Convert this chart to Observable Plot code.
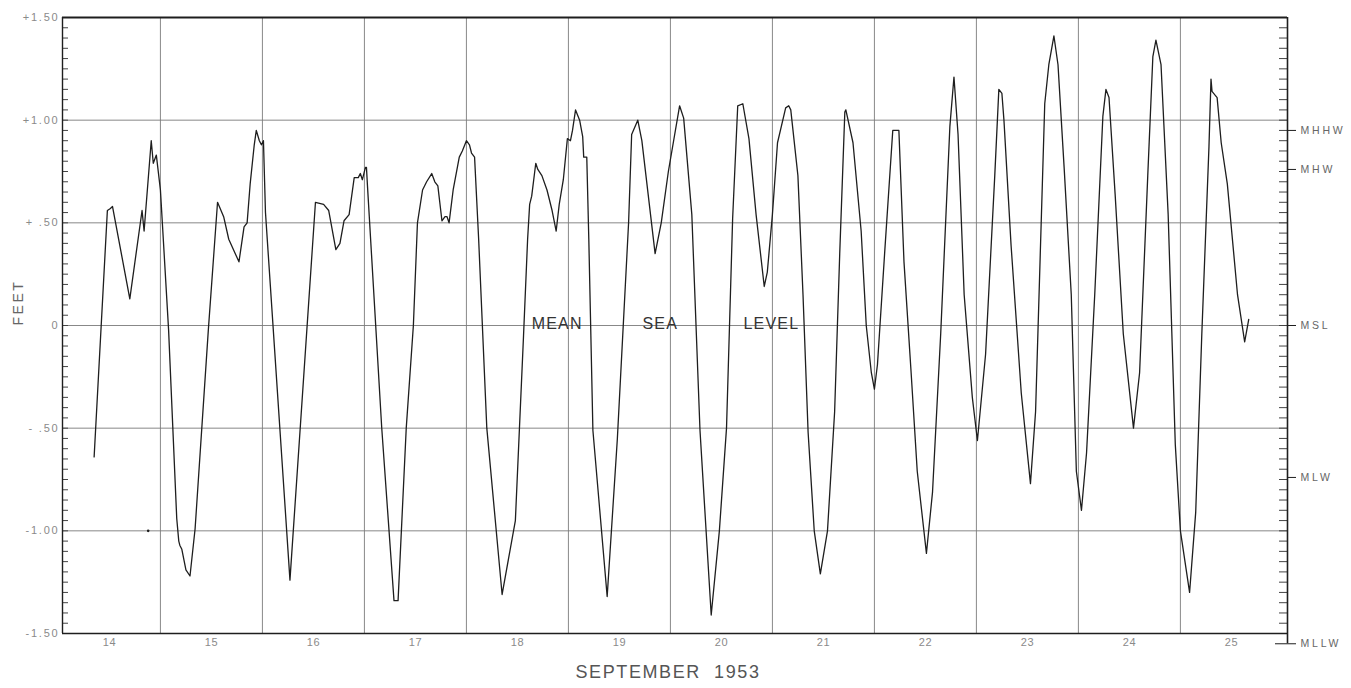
<!DOCTYPE html>
<html>
<head>
<meta charset="utf-8">
<script src="https://cdn.jsdelivr.net/npm/d3@7"></script>
<script src="https://cdn.jsdelivr.net/npm/@observablehq/plot@0.6"></script>
<style>
  html, body { margin: 0; padding: 0; background: #fff; }
  #chart svg { display: block; }
</style>
</head>
<body>
<div id="chart"></div>
<script>
// ---- Data (day of September 1953, height in feet rel. MSL)
const tideDay = [
  14.35,14.48,14.51,14.53,14.70,14.82,14.84,14.91,14.93,14.96,15.00,15.08,15.16,15.18,15.19,15.21,15.25,15.29,15.34,
  15.47,15.56,15.62,15.67,15.77,15.82,15.85,15.88,15.92,15.94,15.97,15.99,16.01,16.03,16.27,
  16.52,16.60,16.65,16.72,16.76,16.80,16.85,16.90,16.94,16.96,16.98,17.01,17.02,17.03,17.17,17.29,17.33,
  17.41,17.48,17.52,17.57,17.61,17.66,17.69,17.72,17.76,17.79,17.81,17.83,17.87,17.93,17.96,18.00,18.03,18.05,18.08,18.12,18.20,18.35,
  18.48,18.56,18.60,18.62,18.64,18.68,18.70,18.74,18.79,18.84,18.88,18.91,18.95,18.99,19.02,19.04,19.07,19.11,19.14,19.15,19.18,19.20,19.24,19.38,
  19.48,19.59,19.62,19.68,19.72,19.85,19.91,19.98,20.09,20.13,20.21,20.29,20.40,
  20.48,20.55,20.61,20.66,20.71,20.77,20.84,20.92,20.95,21.00,21.05,21.13,21.16,21.18,21.25,21.30,21.35,21.41,21.47,
  21.54,21.61,21.66,21.71,21.72,21.79,21.87,21.92,21.97,22.00,22.03,22.10,22.18,22.24,22.29,22.36,22.42,22.51,
  22.57,22.65,22.74,22.78,22.82,22.88,22.96,23.01,23.09,23.18,23.22,23.25,23.27,23.34,23.44,23.53,
  23.58,23.67,23.71,23.76,23.80,23.86,23.93,23.98,24.03,24.08,24.16,24.24,24.27,24.30,24.36,24.44,24.54,
  24.60,24.68,24.73,24.76,24.81,24.88,24.95,25.00,25.09,25.15,25.21,25.28,25.30,25.31,25.36,25.40,25.46,25.56,25.63,25.67
];
const tideFeet = [
  -0.64,0.56,0.57,0.58,0.13,0.56,0.46,0.90,0.79,0.83,0.66,-0.02,-0.94,-1.05,-1.07,-1.09,-1.19,-1.22,-0.99,
  -0.02,0.60,0.53,0.42,0.31,0.48,0.50,0.69,0.88,0.95,0.90,0.88,0.90,0.55,-1.24,
  0.60,0.59,0.56,0.37,0.40,0.51,0.54,0.72,0.72,0.74,0.71,0.77,0.77,0.68,-0.50,-1.34,-1.34,
  -0.50,0.00,0.50,0.66,0.70,0.74,0.70,0.68,0.51,0.53,0.53,0.50,0.66,0.82,0.85,0.90,0.88,0.84,0.82,0.42,-0.50,-1.31,
  -0.95,-0.05,0.42,0.59,0.63,0.79,0.76,0.73,0.66,0.56,0.46,0.59,0.71,0.91,0.90,0.95,1.05,1.00,0.92,0.82,0.82,0.42,-0.51,-1.32,
  -0.55,0.50,0.93,1.00,0.90,0.35,0.50,0.75,1.07,1.01,0.54,-0.51,-1.41,
  -1.00,-0.50,0.52,1.07,1.08,0.91,0.54,0.19,0.26,0.54,0.89,1.06,1.07,1.05,0.73,0.15,-0.52,-1.00,-1.21,
  -1.00,-0.42,0.35,1.04,1.05,0.89,0.46,0.00,-0.23,-0.31,-0.19,0.35,0.95,0.95,0.31,-0.23,-0.71,-1.11,
  -0.81,-0.04,0.97,1.21,0.93,0.15,-0.35,-0.56,-0.14,0.73,1.15,1.13,1.00,0.39,-0.33,-0.77,
  -0.42,1.08,1.27,1.41,1.27,0.77,0.15,-0.71,-0.90,-0.62,0.15,1.02,1.15,1.11,0.64,-0.04,-0.50,
  -0.23,0.73,1.31,1.39,1.27,0.54,-0.58,-1.00,-1.30,-0.91,-0.04,0.87,1.20,1.14,1.11,0.89,0.69,0.15,-0.08,0.03
];
const strayDay = [14.88];
const strayFeet = [-1.0];

const dayLabels = ["14","15","16","17","18","19","20","21","22","23","24","25"];
const dayLabelPos = [14.5,15.5,16.5,17.5,18.5,19.5,20.5,21.5,22.5,23.5,24.5,25.5];
const gridDays = [15,16,17,18,19,20,21,22,23,24,25];
const gridFeet = [-1.0,-0.5,0,0.5,1.0];
const feetTicks = [1.5,1.0,0.5,0,-0.5,-1.0,-1.5];
const feetTickLabels = ["+1.50","+1.00","+ .50","0","- .50","-1.00","-1.50"];
const datumNames = ["MHHW","MHW","MSL","MLW","MLLW"];
const datumFeet = [0.95,0.76,0,-0.74,-1.55];
const mslWords = ["MEAN","SEA","LEVEL"];
const mslWordDays = [18.89,19.90,20.99];

// ---- Build
const xDomain = [14.04, 26.05];
const W = 1351, H = 688;
const mL = 62, mR = 64, mT = 17, mB = 55;
const plotW = W - mL - mR;
const minorTicks = d3.range(-29, 30).map(k => k / 20);

const tide = tideDay.map((d, i) => ({day: d, ft: tideFeet[i]}));
const stray = strayDay.map((d, i) => ({day: d, ft: strayFeet[i]}));
const labelsY = feetTicks.map((v, i) => ({ft: v, label: feetTickLabels[i]}));
const labelsX = dayLabels.map((t, i) => ({day: dayLabelPos[i], label: t}));
const datum = datumNames.map((n, i) => ({name: n, ft: datumFeet[i]}));
const words = mslWords.map((w, i) => ({word: w, day: mslWordDays[i]}));

const gridColor = "#7a7a7a";
const ink = "#1e1e1e";

const chart = Plot.plot({
  width: W, height: H,
  marginLeft: mL, marginRight: mR, marginTop: mT, marginBottom: mB,
  x: {domain: xDomain, axis: null},
  y: {domain: [-1.5, 1.5], axis: null},
  style: {background: "#fff", fontFamily: "'Liberation Sans', Arial, sans-serif"},
  marks: [
    // grid
    Plot.ruleX(gridDays, {stroke: gridColor, strokeWidth: 0.9}),
    Plot.ruleY(gridFeet, {stroke: gridColor, strokeWidth: 0.9}),
    // inward minor ticks on both sides
    Plot.ruleY(minorTicks, {stroke: "#444", strokeWidth: 1, insetRight: plotW - 6}),
    Plot.ruleY(minorTicks, {stroke: "#444", strokeWidth: 1, insetLeft: plotW - 8}),
    // frame
    Plot.ruleY([1.5], {stroke: ink, strokeWidth: 2}),
    Plot.ruleY([-1.5], {stroke: ink, strokeWidth: 1.6}),
    Plot.ruleX([xDomain[0]], {stroke: ink, strokeWidth: 1.4}),
    Plot.ruleX([xDomain[1]], {y1: -1.55, y2: 1.5, stroke: ink, strokeWidth: 1.6}),
    // datum ticks (outward) + MLLW inward part
    Plot.ruleY(datum, {y: "ft", stroke: ink, strokeWidth: 1, insetLeft: plotW, insetRight: -9}),
    Plot.ruleY([-1.55], {stroke: ink, strokeWidth: 1, insetLeft: plotW - 12, insetRight: 0}),
    // tide curve
    Plot.line(tide, {x: "day", y: "ft", stroke: ink, strokeWidth: 1.3, strokeLinejoin: "round"}),
    Plot.dot(stray, {x: "day", y: "ft", r: 1.3, fill: ink, stroke: null}),
    // left labels
    Plot.text(labelsY, {y: "ft", text: "label", frameAnchor: "left", dx: -3, textAnchor: "end",
      fontSize: 11, fill: "#8a8a8a"}),
    // right datum labels
    Plot.text(datum, {y: "ft", text: "name", frameAnchor: "right", dx: 13, textAnchor: "start",
      fontSize: 10.5, fill: "#666"}),
    // day labels
    Plot.text(labelsX, {x: "day", text: "label", frameAnchor: "bottom", dy: 12,
      fontSize: 11, fill: "#8a8a8a"}),
    // MEAN SEA LEVEL
    Plot.text(words, {x: "day", y: () => 0, text: "word", lineAnchor: "bottom", dy: 3,
      fontSize: 16, fill: "#333"}),
    // axis titles
    Plot.text(["FEET"], {text: d => d, frameAnchor: "left", dx: -44, rotate: -90,
      fontSize: 14, fill: "#666"}),
    Plot.text(["SEPTEMBER\u00a0\u00a01953"], {text: d => d, frameAnchor: "bottom", dx: -7, dy: 44,
      fontSize: 18, fill: "#555"})
  ]
});

// letter spacing tweaks
d3.select(chart).selectAll("text").each(function() {
  const t = this.textContent;
  let ls = null;
  if (feetTickLabels.includes(t)) ls = "1.8px";
  else if (datumNames.includes(t)) ls = "2.8px";
  else if (t === "FEET") ls = "2.5px";
  else if (t.startsWith("SEPTEMBER")) ls = "1.6px";
  else if (mslWords.includes(t)) ls = "1.2px";
  else if (dayLabels.includes(t)) ls = "0.5px";
  if (ls) this.setAttribute("letter-spacing", ls);
});

document.getElementById("chart").appendChild(chart);
</script>
</body>
</html>
